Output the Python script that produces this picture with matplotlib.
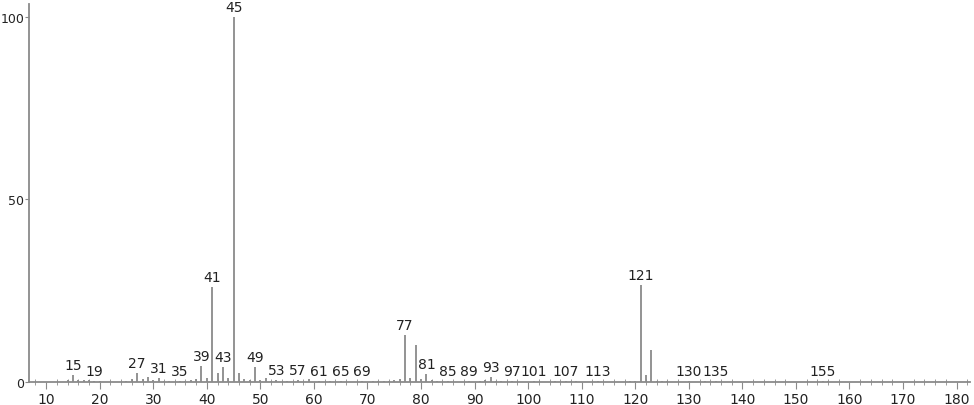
import numpy as np
import matplotlib.pyplot as plt
from matplotlib.ticker import MultipleLocator

mpl_gray = "#8a8a8a"

# m/z and relative intensity (%)
mz = [14, 15, 16, 17, 18, 19, 20,
      25, 26, 27, 28, 29, 30, 31, 32, 33, 35, 36, 37, 38, 39, 40,
      41, 42, 43, 44, 45, 46, 47, 48, 49, 50, 51, 52, 53, 55, 57, 59,
      61, 63, 65, 69, 71, 72, 73, 74, 75, 76, 77, 78, 79, 80, 81, 82,
      83, 85, 89, 91, 92, 93, 94, 95, 97, 101, 105, 107, 108, 109, 113,
      119, 120, 121, 122, 123, 124, 125, 126, 130, 133, 135, 155, 156]
intensity = [0.5, 1.9, 0.6, 0.5, 0.6, 0.3, 0.2,
             0.3, 0.8, 2.5, 0.8, 1.5, 0.5, 1.0, 0.4, 0.3, 0.3, 0.3, 0.5, 0.8, 4.5, 1.2,
             26.0, 2.5, 4.2, 1.0, 100.0, 2.5, 0.8, 0.5, 4.0, 0.5, 1.0, 0.3, 0.6, 0.3, 0.6, 0.8,
             0.3, 0.3, 0.4, 0.3, 0.3, 0.3, 0.3, 0.4, 0.5, 0.8, 13.0, 1.2, 10.0, 0.8, 2.2, 0.5,
             0.3, 0.3, 0.3, 0.4, 0.5, 1.5, 0.4, 0.3, 0.3, 0.2, 0.3, 0.3, 0.3, 0.3, 0.2,
             0.3, 0.3, 26.5, 1.8, 8.7, 0.4, 0.3, 0.3, 0.2, 0.3, 0.2, 0.4, 0.4]

# peaks that carry an m/z label
labelled = [15, 19, 27, 31, 35, 39, 41, 43, 45, 49, 53, 57, 61, 65, 69, 77,
            81, 85, 89, 93, 97, 101, 107, 113, 121, 130, 135, 155]

fig = plt.figure(figsize=(9.74, 4.06), dpi=100)
ax = fig.add_axes([29 / 974, 23 / 406, 941 / 974, 378 / 406])

ax.vlines(mz, 0, intensity, color=mpl_gray, lw=1.3)

lookup = dict(zip(mz, intensity))
for m in labelled:
    ax.text(m, lookup.get(m, 0) + 0.8, str(m), ha="center", va="bottom",
            fontsize=10, color="#222222")

ax.set_xlim(6.8, 182.5)
ax.set_ylim(0, 103.5)
ax.xaxis.set_major_locator(MultipleLocator(10))
ax.xaxis.set_minor_locator(MultipleLocator(2))
ax.set_yticks([0, 50, 100])

for side in ["top", "right"]:
    ax.spines[side].set_visible(False)
for side in ["left", "bottom"]:
    ax.spines[side].set_color(mpl_gray)
    ax.spines[side].set_linewidth(1.3)

ax.tick_params(axis="x", which="major", direction="out", length=5, color=mpl_gray,
               labelsize=10, pad=2, labelcolor="#222222")
ax.tick_params(axis="x", which="minor", direction="inout", length=4, color=mpl_gray)
ax.tick_params(axis="y", direction="out", length=3, color=mpl_gray,
               labelsize=9, pad=0.5, labelcolor="#222222")

fig.savefig("out.png", dpi=100)
